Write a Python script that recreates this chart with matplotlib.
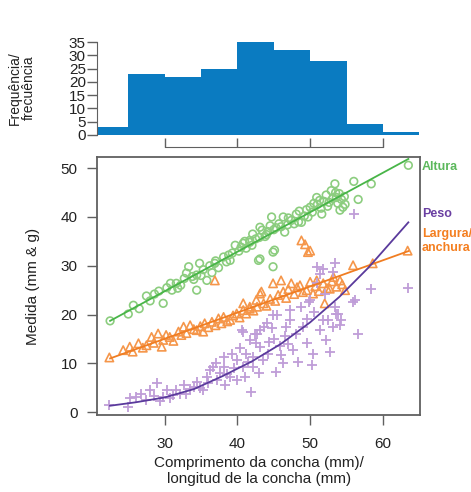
import matplotlib

matplotlib.use("Agg")
import matplotlib.pyplot as plt
from matplotlib.transforms import blended_transform_factory

plt.rcParams["font.family"] = ["Liberation Sans", "DejaVu Sans"]

# histogram of shell length
hist_edges = [20, 25, 30, 35, 40, 45, 50, 55, 60, 65]
hist_counts = [3, 23, 22, 25, 35, 32, 28, 4, 1]

# Altura / height (circles)
alt_x = [22.5, 25.0, 25.7, 26.5, 27.5, 28.0, 28.6, 29.2, 29.8, 30.3, 30.8, 31.0, 31.6, 31.8, 32.2, 32.7,
         33.0, 33.3, 33.8, 34.0, 34.4, 34.4, 34.8, 35.0, 35.3, 35.8, 36.2, 36.5, 36.9, 37.0, 37.4, 38.1,
         38.5, 38.8, 39.0, 39.3, 39.7, 40.2, 40.5, 40.8, 41.0, 41.2, 41.7, 41.7, 42.0, 42.1, 42.5, 42.9,
         43.0, 43.1, 43.1, 43.4, 43.8, 44.0, 44.2, 44.5, 44.7, 44.9, 44.9, 45.0, 45.1, 45.3, 45.7, 46.0,
         46.3, 46.5, 46.9, 47.0, 47.4, 47.8, 48.1, 48.4, 48.5, 48.8, 49.2, 49.5, 49.7, 50.0, 50.3, 50.5,
         50.9, 51.0, 51.3, 51.5, 51.6, 51.9, 52.2, 52.4, 52.6, 52.9, 53.1, 53.4, 53.5, 53.6, 53.8, 54.0,
         54.1, 54.3, 54.5, 54.7, 54.8, 56.0, 56.6, 58.4, 63.5]
alt_y = [18.7, 20.1, 21.9, 21.2, 23.8, 22.8, 24.2, 24.8, 22.3, 25.5, 26.4, 25.0, 26.4, 25.4, 26.0, 27.4,
         28.5, 29.8, 27.8, 27.2, 25.0, 28.1, 30.5, 28.0, 29.2, 27.0, 30.0, 28.6, 30.5, 31.0, 29.6, 31.8,
         30.8, 32.2, 31.1, 32.6, 34.2, 33.0, 33.8, 34.6, 35.0, 33.6, 35.2, 34.8, 34.2, 36.5, 35.5, 31.1,
         35.8, 37.9, 31.4, 37.3, 36.0, 36.4, 37.0, 38.2, 40.0, 32.8, 29.8, 37.4, 33.2, 37.8, 38.6, 38.0,
         40.0, 36.9, 38.4, 39.8, 39.3, 38.6, 40.6, 39.0, 41.2, 38.9, 40.2, 41.5, 40.0, 42.0, 41.0, 42.8,
         44.0, 42.6, 43.4, 41.8, 40.6, 43.2, 44.5, 42.2, 43.0, 45.4, 43.8, 46.8, 45.0, 44.0, 42.8, 44.8,
         41.4, 43.6, 42.0, 44.2, 42.6, 47.3, 43.6, 46.8, 50.6]

# Largura / width (triangles)
lar_x = [22.4, 24.3, 25.2, 25.6, 26.4, 27.0, 27.5, 28.2, 28.5, 29.1, 29.6, 29.8, 30.2, 30.7, 31.2, 31.9,
         32.3, 32.6, 33.0, 33.5, 34.0, 34.4, 34.9, 35.3, 35.5, 36.0, 36.5, 36.9, 37.0, 37.4, 37.8, 38.1,
         38.6, 39.0, 39.4, 39.9, 40.3, 40.8, 40.8, 41.2, 41.7, 41.7, 42.2, 42.6, 42.7, 43.1, 43.3, 43.6,
         44.0, 44.5, 44.9, 45.2, 45.6, 46.0, 46.3, 46.7, 47.0, 47.4, 47.8, 48.2, 48.6, 48.8, 49.0, 49.3,
         49.5, 49.7, 50.0, 50.0, 50.4, 50.7, 50.9, 51.2, 51.8, 52.0, 52.3, 52.7, 53.0, 53.2, 53.6, 54.1,
         54.4, 54.8, 55.9, 58.6, 63.4]
lar_y = [11.2, 12.7, 13.4, 12.4, 14.1, 13.2, 13.7, 15.4, 14.2, 16.1, 13.4, 14.8, 15.8, 15.4, 14.6, 16.5,
         15.8, 17.5, 16.2, 17.8, 17.0, 16.8, 17.6, 16.5, 18.2, 17.4, 18.5, 27.0, 17.8, 19.2, 18.2, 19.5,
         18.6, 18.9, 19.8, 20.2, 19.4, 20.9, 22.3, 20.2, 21.6, 21.2, 20.8, 23.0, 21.6, 24.3, 24.7, 22.3,
         21.8, 23.2, 26.4, 22.8, 24.0, 27.0, 24.7, 23.4, 25.2, 26.4, 24.2, 25.6, 26.0, 35.2, 24.6, 34.4,
         25.0, 32.8, 33.1, 26.7, 24.3, 25.8, 27.0, 24.8, 26.4, 22.3, 25.4, 25.3, 26.8, 27.7, 25.7, 27.0,
         26.2, 25.0, 30.1, 30.5, 33.1]

# Peso / weight (crosses)
pes_x = [22.4, 25.0, 25.2, 26.1, 26.8, 27.5, 28.0, 28.5, 28.9, 29.3, 29.8, 30.3, 30.8, 31.2, 31.6, 32.1,
         32.6, 33.0, 33.5, 34.0, 34.4, 34.8, 35.3, 35.8, 36.0, 36.2, 36.7, 37.0, 37.2, 37.6, 38.1, 38.1,
         38.3, 38.6, 39.0, 39.2, 39.5, 39.9, 40.0, 40.4, 40.6, 40.8, 40.8, 41.0, 41.2, 41.5, 41.7, 41.9,
         42.1, 42.2, 42.4, 42.6, 42.7, 43.0, 43.1, 43.1, 43.5, 43.6, 44.0, 44.2, 44.4, 44.7, 44.9, 45.0,
         45.3, 45.4, 45.8, 46.0, 46.3, 46.5, 46.7, 47.0, 47.2, 47.2, 47.6, 48.0, 48.3, 48.8, 49.0, 49.5,
         49.5, 49.9, 50.0, 50.2, 50.4, 50.5, 50.9, 50.9, 51.3, 51.3, 51.8, 51.8, 52.0, 52.2, 52.5, 52.7,
         53.2, 53.2, 53.4, 53.4, 53.6, 53.8, 54.1, 54.3, 55.9, 56.0, 56.1, 56.6, 58.4, 63.5]
pes_y = [1.4, 1.1, 2.8, 3.1, 3.8, 2.5, 4.5, 3.2, 5.9, 2.2, 3.1, 4.5, 2.9, 3.5, 4.5, 3.8,
         5.5, 3.8, 4.8, 5.2, 6.2, 5.0, 4.5, 7.2, 6.0, 8.6, 9.3, 10.0, 6.6, 8.0, 9.3, 11.3,
         5.5, 7.8, 7.2, 12.0, 9.0, 10.7, 6.5, 13.1, 16.8, 9.3, 16.5, 7.2, 12.0, 10.3, 14.8, 4.2,
         9.3, 11.3, 16.1, 14.1, 16.1, 8.0, 13.4, 16.8, 10.7, 17.5, 18.2, 12.0, 14.4, 17.2, 19.9, 15.0,
         8.3, 19.9, 13.5, 11.7, 10.0, 15.5, 17.5, 14.0, 18.9, 20.9, 12.7, 16.0, 10.3, 21.6, 17.5, 14.1,
         19.0, 22.6, 23.0, 9.6, 12.0, 20.5, 26.4, 29.8, 16.8, 28.4, 18.9, 29.4, 24.3, 14.8, 18.9, 12.4,
         17.5, 28.7, 21.6, 30.5, 20.2, 20.2, 17.8, 18.9, 22.6, 40.6, 23.0, 16.1, 25.3, 25.4]

# fitted curves
alt_fit_x = [22.5, 63.5]
alt_fit_y = [18.7, 51.9]
lar_fit_x = [22.5, 63.5]
lar_fit_y = [11.0, 33.0]
pes_fit_x = [22.5, 26, 30, 34, 38, 42, 46, 50, 54, 58, 63.5]
pes_fit_y = [1.3, 2.0, 3.0, 4.7, 7.4, 10.4, 14.0, 18.4, 23.6, 29.6, 38.9]

x_ticks = [30, 40, 50, 60]
y_ticks = [0, 10, 20, 30, 40, 50]
hist_ticks = [0, 5, 10, 15, 20, 25, 30, 35]

W, H = 471, 492
fig = plt.figure(figsize=(W / 100, H / 100), dpi=100)
frame = "#606060"
txt = "#222222"

ax = fig.add_axes([97 / W, 1 - 415 / H, 323 / W, 258 / H])
ax_h = fig.add_axes([97 / W, 1 - 135 / H, 323 / W, 93 / H])

# histogram
widths = [b - a for a, b in zip(hist_edges[:-1], hist_edges[1:])]
ax_h.bar(hist_edges[:-1], hist_counts, width=widths, align="edge", color="#0a7bc1", linewidth=0)
ax_h.set_xlim(20.7, 65.1)
ax_h.set_ylim(0, 35)
ax_h.set_yticks(hist_ticks)
ax_h.set_xticks(x_ticks)
ax_h.tick_params(axis="y", direction="out", length=7, width=1, colors=frame, labelcolor=txt, labelsize=11, pad=1)
ax_h.tick_params(axis="x", direction="in", length=6.5, width=1, colors=frame, labelbottom=False)
for side in ("top", "right"):
    ax_h.spines[side].set_visible(False)
ax_h.spines["left"].set_color(frame)
ax_h.spines["bottom"].set_color(frame)
ax_h.spines["bottom"].set_position(("outward", 8.6))
ax_h.spines["bottom"].set_bounds(30, 60)
ax_h.patch.set_alpha(0)

# scatter
ax.scatter(alt_x, alt_y, s=30, facecolors="none", edgecolors="#8ccd7f", linewidths=1.2, zorder=2)
ax.scatter(lar_x, lar_y, s=36, marker="^", facecolors="none", edgecolors="#f5964a", linewidths=1.2, zorder=2)
ax.scatter(pes_x, pes_y, s=48, marker="+", color="#bf9dd8", linewidths=1.3, zorder=2)
ax.plot(alt_fit_x, alt_fit_y, color="#48b548", lw=1.3, zorder=3)
ax.plot(lar_fit_x, lar_fit_y, color="#f07d22", lw=1.3, zorder=3)
ax.plot(pes_fit_x, pes_fit_y, color="#5a3a9c", lw=1.3, zorder=3)

ax.set_xlim(20.7, 65.1)
ax.set_ylim(-0.6, 52.3)
ax.set_xticks(x_ticks)
ax.set_yticks(y_ticks)
ax.tick_params(direction="out", length=7, width=1, colors=frame, labelcolor=txt, labelsize=11)
ax.tick_params(axis="x", pad=9)
ax.tick_params(axis="y", pad=7)
for sp in ax.spines.values():
    sp.set_color(frame)
    sp.set_linewidth(1.3)

trans = blended_transform_factory(ax.transAxes, ax.transData)
ax.text(1.006, 50.2, "Altura", transform=trans, color="#5cb85c", fontsize=9, fontweight="bold", va="center", ha="left")
ax.text(1.006, 40.6, "Peso", transform=trans, color="#6a3fa2", fontsize=9, fontweight="bold", va="center", ha="left")
ax.text(1.006, 35.0, "Largura/\nanchura", transform=trans, color="#f47f20", fontsize=9, fontweight="bold",
        va="center", ha="left", linespacing=1.2)

fig.text(259 / W, 1 - 471 / H, "Comprimento da concha (mm)/\nlongitud de la concha (mm)", ha="center", va="center",
         fontsize=11, color=txt, linespacing=1.2)
fig.text(33 / W, 1 - 286 / H, "Medida (mm & g)", rotation=90, ha="center", va="center", fontsize=11, color=txt)
fig.text(22 / W, 1 - 88 / H, "Frequência/\nfrecuência", rotation=90, ha="center", va="center", fontsize=10,
         color=txt, linespacing=0.95)

fig.savefig("out.png", dpi=100)
